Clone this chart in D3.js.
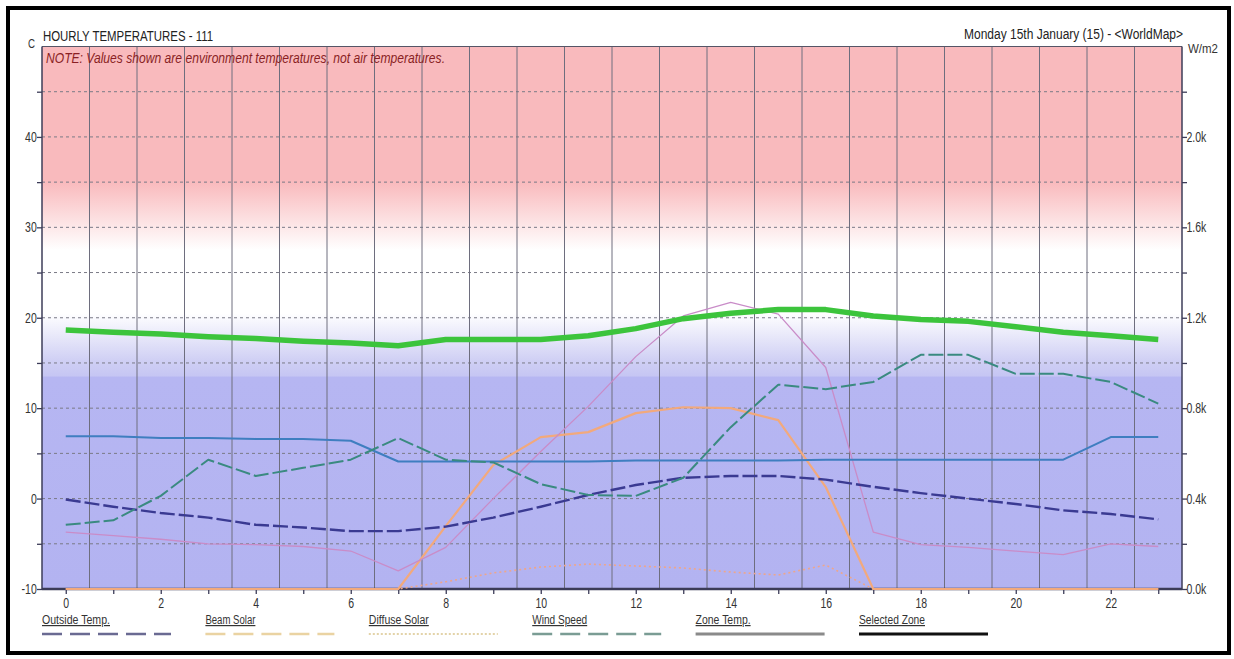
<!DOCTYPE html>
<html><head><meta charset="utf-8">
<script src="https://cdn.jsdelivr.net/npm/d3@7"></script>
<style>
html,body{margin:0;padding:0;background:#fff;}
svg{display:block;}
text{font-family:"Liberation Sans", Arial, sans-serif;}
</style></head><body>
<svg id="chart" width="1234" height="659"></svg>
<script>
// ---------------- data ----------------
const hours = [0,1,2,3,4,5,6,7,8,9,10,11,12,13,14,15,16,17,18,19,20,21,22,23];
const outsideTemp = [-0.1,-0.9,-1.6,-2.1,-2.9,-3.2,-3.6,-3.6,-3.1,-2.1,-0.9,0.4,1.5,2.3,2.5,2.5,2.1,1.3,0.6,0.0,-0.6,-1.3,-1.7,-2.3];
const beamSolar = [0,0,0,0,0,0,0,0,278,548,672,694,778,804,800,747,451,0,0,0,0,0,0,0];
const diffuseSolar = [0,0,0,0,0,0,0,0,32,71,97,110,102,93,75,62,106,0,0,0,0,0,0,0];
const windSpeed = [-2.9,-2.4,0.3,4.3,2.5,3.4,4.3,6.7,4.3,4.0,1.6,0.4,0.3,2.3,7.9,12.6,12.1,12.9,15.9,15.9,13.8,13.8,12.9,10.5];
const zoneTempA = [6.9,6.9,6.7,6.7,6.6,6.6,6.4,4.1,4.1,4.1,4.1,4.1,4.2,4.2,4.2,4.2,4.3,4.3,4.3,4.3,4.3,4.3,6.8,6.8];
const zoneTempB = [-3.7,-4.1,-4.5,-5.0,-5.1,-5.3,-5.8,-8.0,-5.4,0.0,5.2,10.2,15.7,20.2,21.7,20.4,14.5,-3.7,-5.1,-5.4,-5.8,-6.2,-5.0,-5.3];
const selectedZoneTemp = [18.65,18.4,18.2,17.9,17.7,17.4,17.2,16.9,17.6,17.6,17.6,18.0,18.8,19.9,20.5,20.9,20.9,20.2,19.8,19.6,19.0,18.4,18.0,17.6];

const leftTicks = [-10,-5,0,5,10,15,20,25,30,35,40,45];
const leftTickLabels = ["-10","","0","","10","","20","","30","","40",""];
const rightTicks = [0,200,400,600,800,1000,1200,1400,1600,1800,2000,2200];
const rightTickLabels = ["0.0k","","0.4k","","0.8k","","1.2k","","1.6k","","2.0k",""];
const xTicks = [0,1,2,3,4,5,6,7,8,9,10,11,12,13,14,15,16,17,18,19,20,21,22,23];
const xTickLabels = ["0","","2","","4","","6","","8","","10","","12","","14","","16","","18","","20","","22",""];
const vGridHours = [0.5,1.5,2.5,3.5,4.5,5.5,6.5,7.5,8.5,9.5,10.5,11.5,12.5,13.5,14.5,15.5,16.5,17.5,18.5,19.5,20.5,21.5,22.5];
const legendLabels = ["Outside Temp.","Beam Solar","Diffuse Solar","Wind Speed","Zone Temp.","Selected Zone"];

const titleText = "HOURLY TEMPERATURES - 111";
const dateText = "Monday 15th January (15) - <WorldMap>";
const noteText = "NOTE: Values shown are environment temperatures, not air temperatures.";

// ---------------- layout ----------------
const svg = d3.select("#chart");
const PL = 42, PR = 1182, PT = 46.5, PB = 589;
const x = d3.scaleLinear().domain([-0.5, 23.5]).range([PL, PR]);
const yL = d3.scaleLinear().domain([-10, 50]).range([PB, PT]);
const yR = d3.scaleLinear().domain([0, 2400]).range([PB, PT]);

// outer frame
svg.append("rect").attr("x", 8).attr("y", 8).attr("width", 1221).attr("height", 645)
  .attr("fill", "none").attr("stroke", "#000").attr("stroke-width", 4);

const defs = svg.append("defs");
const grad = defs.append("linearGradient").attr("id", "bg")
  .attr("gradientUnits", "userSpaceOnUse").attr("x1", 0).attr("x2", 0)
  .attr("y1", yL(50)).attr("y2", yL(-10));
const bgStops = [[50,"#f9babd"],[35,"#f9babd"],[27.5,"#ffffff"],[20.5,"#ffffff"],[15.2,"#cfcff4"],[13.6,"#c6c6f3"],[13.4,"#b6b6f2"],[-10,"#b3b3f1"]];
bgStops.forEach(s => grad.append("stop").attr("offset", (50 - s[0]) / 60).attr("stop-color", s[1]));

defs.append("clipPath").attr("id", "clip").append("rect")
  .attr("x", PL).attr("y", PT).attr("width", PR - PL).attr("height", PB - PT + 2);

svg.append("rect").attr("x", PL).attr("y", PT).attr("width", PR - PL).attr("height", PB - PT).attr("fill", "url(#bg)");

// horizontal dashed grid
svg.append("g").selectAll("line").data(leftTicks.filter(d => d > -10)).join("line")
  .attr("x1", PL).attr("x2", PR).attr("y1", d => yL(d)).attr("y2", d => yL(d))
  .attr("stroke", "#7a7a86").attr("stroke-width", 1).attr("stroke-dasharray", "3,3");

// vertical grid
svg.append("g").selectAll("line").data(vGridHours).join("line")
  .attr("x1", d => x(d)).attr("x2", d => x(d)).attr("y1", PT).attr("y2", PB)
  .attr("stroke", "#6e6e7e").attr("stroke-width", 1);

// axes
const axisColor = "#3c3c58";
function styleAxis(g) {
  g.select(".domain").remove();
  g.selectAll(".tick line").attr("stroke", axisColor).attr("stroke-width", 1.3);
  g.selectAll(".tick text").attr("fill", "#333").attr("font-size", 14);
}
const gL = svg.append("g").attr("transform", `translate(${PL},0)`)
  .call(d3.axisLeft(yL).tickValues(leftTicks).tickFormat((d, i) => leftTickLabels[i]).tickSize(5).tickPadding(2));
styleAxis(gL);
gL.selectAll(".tick text").attr("transform", "scale(0.75,1)");

const gR = svg.append("g").attr("transform", `translate(${PR},0)`)
  .call(d3.axisRight(yR).tickValues(rightTicks).tickFormat((d, i) => rightTickLabels[i]).tickSize(5).tickPadding(1));
styleAxis(gR);
gR.selectAll(".tick text").attr("transform", "scale(0.75,1)");

const gB = svg.append("g").attr("transform", `translate(0,${PB})`)
  .call(d3.axisBottom(x).tickValues(xTicks).tickFormat((d, i) => xTickLabels[i]).tickSize(5).tickPadding(4));
styleAxis(gB);
gB.selectAll(".tick text").attr("transform", "scale(0.75,1)");

// frame lines
svg.append("line").attr("x1", PL).attr("x2", PR).attr("y1", PB).attr("y2", PB).attr("stroke", axisColor).attr("stroke-width", 2.5);
svg.append("line").attr("x1", PL).attr("x2", PR).attr("y1", PT).attr("y2", PT).attr("stroke", "#555566").attr("stroke-width", 1.2);
svg.append("line").attr("x1", PL).attr("x2", PL).attr("y1", PT).attr("y2", PB).attr("stroke", axisColor).attr("stroke-width", 1.5);
svg.append("line").attr("x1", PR).attr("x2", PR).attr("y1", PT).attr("y2", PB).attr("stroke", axisColor).attr("stroke-width", 1.5);

// series
const plot = svg.append("g").attr("clip-path", "url(#clip)");
function drawSeries(vals, yScale, color, width, dash) {
  const line = d3.line().x((d, i) => x(hours[i])).y(d => yScale(d));
  plot.append("path").datum(vals).attr("d", line)
    .attr("fill", "none").attr("stroke", color).attr("stroke-width", width)
    .attr("stroke-dasharray", dash || null).attr("stroke-linejoin", "round");
}
drawSeries(diffuseSolar, yR, "#eea68a", 1.6, "2,3");
drawSeries(beamSolar, yR, "#f2a97c", 2.2, null);
drawSeries(zoneTempB, yL, "#c98cc8", 1.3, null);
drawSeries(zoneTempA, yL, "#3f7ec0", 2, null);
drawSeries(outsideTemp, yL, "#3a3a92", 2.4, "15,4");
drawSeries(windSpeed, yL, "#3a8a80", 2, "15,4");
drawSeries(selectedZoneTemp, yL, "#3cc43c", 5.5, null);

// titles
svg.append("text").attr("x", 43).attr("y", 41).attr("font-size", 14).attr("fill", "#222")
  .attr("textLength", 170).attr("lengthAdjust", "spacingAndGlyphs").text(titleText);
svg.append("text").attr("x", 964).attr("y", 39).attr("font-size", 14).attr("fill", "#222")
  .attr("textLength", 219).attr("lengthAdjust", "spacingAndGlyphs").text(dateText);
svg.append("text").attr("x", 28).attr("y", 48).attr("font-size", 13).attr("fill", "#333")
  .attr("textLength", 7).attr("lengthAdjust", "spacingAndGlyphs").text("C");
svg.append("text").attr("x", 1188).attr("y", 53).attr("font-size", 12).attr("fill", "#333")
  .attr("textLength", 30).attr("lengthAdjust", "spacingAndGlyphs").text("W/m2");
svg.append("text").attr("x", 46).attr("y", 63).attr("font-size", 14).attr("font-style", "italic").attr("fill", "#8a1f24")
  .attr("textLength", 399).attr("lengthAdjust", "spacingAndGlyphs").text(noteText);

// legend
const legendStyles = [
  {color: "#6a6a92", width: 2.5, dash: "20,8"},
  {color: "#ead3a2", width: 2.5, dash: "20,8"},
  {color: "#e3d3a8", width: 2, dash: "2,2"},
  {color: "#7a9c94", width: 2.5, dash: "20,8"},
  {color: "#8a8a8a", width: 3, dash: null},
  {color: "#111111", width: 3, dash: null}
];
const legendTextLen = [68, 50, 60, 55, 55, 66];
const lg = svg.append("g").selectAll("g").data(legendLabels).join("g")
  .attr("transform", (d, i) => `translate(${42 + i * 163.4},0)`);
lg.append("text").attr("x", 0).attr("y", 624).attr("font-size", 12).attr("fill", "#333")
  .attr("text-decoration", "underline")
  .attr("textLength", (d, i) => legendTextLen[i]).attr("lengthAdjust", "spacingAndGlyphs").text(d => d);
lg.append("line").attr("x1", 0).attr("x2", 129).attr("y1", 634).attr("y2", 634)
  .attr("stroke", (d, i) => legendStyles[i].color).attr("stroke-width", (d, i) => legendStyles[i].width)
  .attr("stroke-dasharray", (d, i) => legendStyles[i].dash);
</script>
</body></html>
